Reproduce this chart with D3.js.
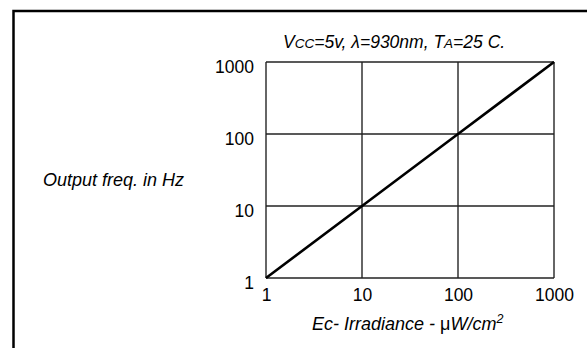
<!DOCTYPE html>
<html><head><meta charset="utf-8">
<script src="https://cdn.jsdelivr.net/npm/d3@7"></script>
<style>
body{margin:0;background:#fff;}
svg{display:block;font-family:"Liberation Sans",Arial,sans-serif;}
</style></head><body>
<svg id="c" width="587" height="348"></svg>
<script>
const irradiance = [1, 10, 100, 1000];
const frequency = [1, 10, 100, 1000];
const xTicks = [1, 10, 100, 1000];
const yTicks = [1, 10, 100, 1000];

const svg = d3.select("#c");
const x = d3.scaleLog().domain([1, 1000]).range([266, 554]);
const y = d3.scaleLog().domain([1, 1000]).range([278, 62]);

// outer frame (left and top)
svg.append("path").attr("d", "M13.5,348 V11 H587").attr("fill", "none").attr("stroke", "#000").attr("stroke-width", 2.5);

// grid
const g = svg.append("g");
g.selectAll(".vx").data(xTicks).join("line")
  .attr("x1", d => x(d)).attr("x2", d => x(d)).attr("y1", y(1000)).attr("y2", y(1))
  .attr("stroke", "#333").attr("stroke-width", 1.5);
g.selectAll(".hy").data(yTicks).join("line")
  .attr("x1", x(1)).attr("x2", x(1000)).attr("y1", d => y(d)).attr("y2", d => y(d))
  .attr("stroke", "#222").attr("stroke-width", 1.5);

// axes labels via d3 axes (no lines)
const xAxis = svg.append("g").attr("transform", `translate(0,${y(1)})`)
  .call(d3.axisBottom(x).tickValues(xTicks).tickFormat(d3.format("d")).tickSize(0).tickPadding(11));
const yAxis = svg.append("g").attr("transform", `translate(${x(1)},0)`)
  .call(d3.axisLeft(y).tickValues(yTicks).tickFormat(d3.format("d")).tickSize(0).tickPadding(12));
[xAxis, yAxis].forEach(a => {
  a.select(".domain").remove();
  a.selectAll("text").attr("font-size", 17.5).attr("fill", "#000").attr("font-family", "Liberation Sans, Arial, sans-serif");
});
yAxis.selectAll("text").attr("dy", "0.6em");

// data line
svg.append("path").datum(irradiance.map((v, i) => [v, frequency[i]]))
  .attr("d", d3.line().x(d => x(d[0])).y(d => y(d[1])))
  .attr("fill", "none").attr("stroke", "#000").attr("stroke-width", 2.6);

// title
const t = svg.append("text").attr("x", 283).attr("y", 48).attr("font-size", 17.5).attr("font-style", "italic");
t.append("tspan").text("V");
t.append("tspan").attr("font-size", 13.5).text("CC");
t.append("tspan").text("=5v, λ=930nm, T");
t.append("tspan").attr("font-size", 13.5).text("A");
t.append("tspan").text("=25 C.");

// y title
svg.append("text").attr("x", 43).attr("y", 186).attr("font-size", 18).attr("font-style", "italic").text("Output freq. in Hz");

// x title
const xt = svg.append("text").attr("x", 312).attr("y", 330).attr("font-size", 18).attr("font-style", "italic");
xt.append("tspan").text("Ec- Irradiance - ");
xt.append("tspan").attr("font-style", "normal").text("μ");
xt.append("tspan").text("W/cm");
xt.append("tspan").attr("font-size", 12.5).attr("dy", -7).text("2");
</script>
</body></html>
